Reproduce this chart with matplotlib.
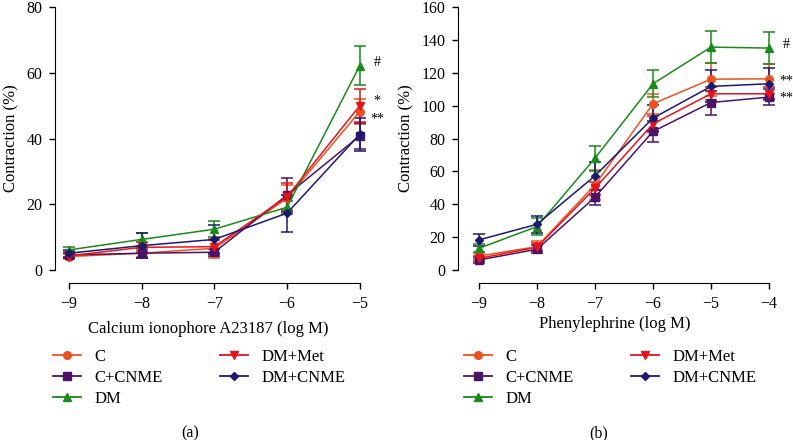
import matplotlib
matplotlib.use("Agg")
import matplotlib.pyplot as plt
from matplotlib.lines import Line2D
import numpy as np

plt.rcParams['font.family'] = ['Liberation Serif', 'DejaVu Serif']

groups = ["C", "C+CNME", "DM", "DM+Met", "DM+CNME"]
colors = ["#F0501E", "#4A1466", "#1A8A1A", "#E4141C", "#1A1A6E"]
markers = ["o", "s", "^", "v", "D"]

### panel (a): calcium ionophore
conc_a = [-9, -8, -7, -6, -5]
mean_a = {
    "C":       [4.1, 5.1, 6.6, 21.8, 48.2],
    "C+CNME":  [4.6, 5.1, 5.4, 22.8, 40.8],
    "DM":      [6.1, 9.3, 12.4, 19.1, 62.2],
    "DM+Met":  [4.3, 6.9, 7.1, 22.3, 50.0],
    "DM+CNME": [5.1, 7.4, 9.3, 17.3, 41.3],
}
err_a = {
    "C":       [0.8, 1.0, 2.8, 4.0, 3.7],
    "C+CNME":  [0.8, 1.5, 1.0, 5.2, 4.0],
    "DM":      [1.0, 2.0, 2.4, 2.0, 5.9],
    "DM+Met":  [0.8, 1.5, 2.0, 4.2, 5.0],
    "DM+CNME": [1.0, 3.8, 4.5, 5.6, 5.0],
}

### panel (b): phenylephrine
conc_b = [-9, -8, -7, -6, -5, -4]
mean_b = {
    "C":       [8.5, 14.2, 51.8, 101.1, 116.1, 116.3],
    "C+CNME":  [6.1, 12.6, 44.3, 84.3, 101.9, 105.2],
    "DM":      [13.2, 26.4, 68.0, 113.3, 135.6, 135.0],
    "DM+Met":  [7.1, 13.8, 49.7, 88.9, 107.2, 107.2],
    "DM+CNME": [18.3, 27.8, 57.3, 92.4, 111.7, 113.3],
}
err_b = {
    "C":       [2.0, 3.5, 9.0, 6.0, 10.0, 9.0],
    "C+CNME":  [2.0, 2.5, 4.5, 6.5, 7.3, 5.0],
    "DM":      [2.5, 5.0, 7.7, 8.1, 9.8, 9.5],
    "DM+Met":  [1.5, 2.5, 4.0, 5.0, 4.0, 4.0],
    "DM+CNME": [3.5, 5.0, 8.7, 8.0, 9.7, 9.5],
}

marks_a = [("#", 63.0), ("*", 51.5), ("**", 46.0)]
marks_b = [("#", 137.0), ("**", 115.0), ("**", 104.5)]

W, H = 793.0, 440.0
fig = plt.figure(figsize=(7.93, 4.40), dpi=100)


def px_axes(left, top, right, bottom):
    return fig.add_axes([left / W, 1 - bottom / H, (right - left) / W, (bottom - top) / H])


def style_axes(ax, xt, yt, xlim, ylim, xlabel, xpad):
    ax.set_xlim(*xlim)
    ax.set_ylim(*ylim)
    for s in ["top", "right"]:
        ax.spines[s].set_visible(False)
    ax.spines["bottom"].set_position(("outward", 9.5))
    ax.spines["bottom"].set_bounds(xt[0], xt[-1])
    ax.spines["left"].set_bounds(yt[0], yt[-1])
    ax.set_xticks(xt)
    ax.set_yticks(yt)
    ax.set_xticklabels([u"\u2212%d" % abs(v) for v in xt])
    ax.tick_params(direction="out", length=4, width=1, labelsize=11.5, pad=5)
    ax.set_ylabel("Contraction (%)", fontsize=12, labelpad=5)
    ax.set_xlabel(xlabel, fontsize=12, labelpad=xpad)


def draw_panel(ax, conc, means, errs, marks):
    for g, c, m in zip(groups, colors, markers):
        ms = 4 if m == "D" else 5.5
        ax.errorbar(conc, means[g], yerr=errs[g], color=c, marker=m, ms=ms,
                    lw=1.1, elinewidth=1.1, capsize=4, capthick=1.1,
                    clip_on=False)
    for txt, yv in marks:
        ax.annotate(txt, (conc[-1], yv), xytext=(12.5, 0), textcoords="offset points",
                    fontsize=10, ha="center", va="center", annotation_clip=False)


ax1 = px_axes(55, 7, 362, 270)
style_axes(ax1, conc_a, [0, 20, 40, 60, 80], (-9.19, -4.97), (0, 80),
           "Calcium ionophore A23187 (log M)", 7)
draw_panel(ax1, conc_a, mean_a, err_a, marks_a)

ax2 = px_axes(458, 7, 772, 270)
style_axes(ax2, conc_b, [0, 20, 40, 60, 80, 100, 120, 140, 160], (-9.36, -3.95), (0, 160),
           "Phenylephrine (log M)", 3)
draw_panel(ax2, conc_b, mean_b, err_b, marks_b)

handles = [Line2D([], [], color=c, marker=m, ms=(4 if m == "D" else 5.5), lw=1.3)
           for c, m in zip(colors, markers)]
for xleft in [53, 464]:
    fig.legend(handles, groups, loc="upper left", bbox_to_anchor=(xleft / W, 1 - 349 / H),
               ncol=2, frameon=False, fontsize=12, handlelength=1.7,
               handletextpad=0.8, columnspacing=3.4, labelspacing=0.3,
               borderaxespad=0, borderpad=0)

fig.text(190 / W, 1 - 433 / H, "(a)", ha="center", va="center", fontsize=11.5)
fig.text(599 / W, 1 - 433 / H, "(b)", ha="center", va="center", fontsize=11.5)

fig.savefig("out.png", dpi=100)
